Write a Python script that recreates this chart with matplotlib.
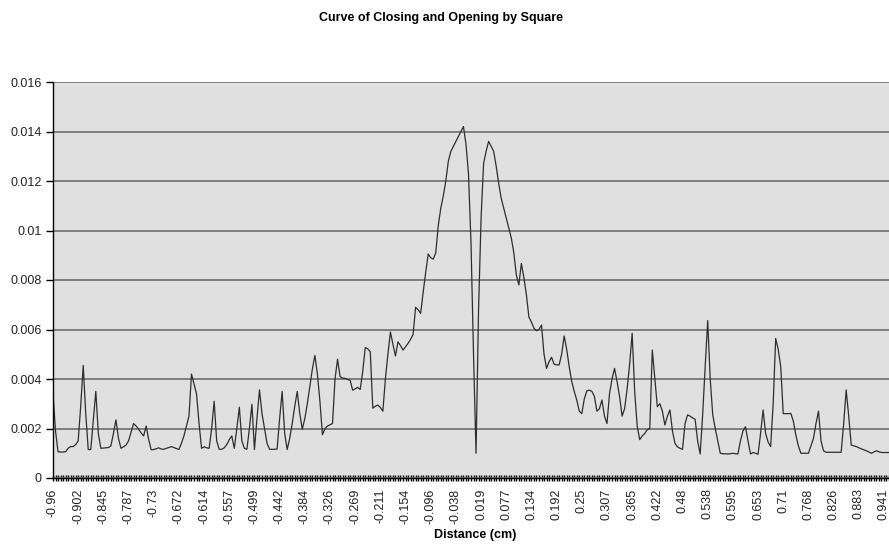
import matplotlib
matplotlib.use("Agg")
import matplotlib.pyplot as plt
import numpy as np

plt.rcParams["font.family"] = ["Liberation Sans", "DejaVu Sans"]

# category labels shown on the x axis (every 10th distance value)
tick_labels = [
    "-0.96", "-0.902", "-0.845", "-0.787", "-0.73", "-0.672", "-0.614",
    "-0.557", "-0.499", "-0.442", "-0.384", "-0.326", "-0.269", "-0.211",
    "-0.154", "-0.096", "-0.038", "0.019", "0.077", "0.134", "0.192",
    "0.25", "0.307", "0.365", "0.422", "0.48", "0.538", "0.595", "0.653",
    "0.71", "0.768", "0.826", "0.883", "0.941",
]

y_ticks = [0, 0.002, 0.004, 0.006, 0.008, 0.01, 0.012, 0.014, 0.016]
y_labels = ["0", "0.002", "0.004", "0.006", "0.008", "0.01", "0.012", "0.014", "0.016"]

# one value per distance step
values = [
    0.00342, 0.00190, 0.00106, 0.00105, 0.00105, 0.00106, 0.00120, 0.00127, 0.00127, 0.00135,
    0.00150, 0.00290, 0.00455, 0.00260, 0.00115, 0.00115, 0.00230, 0.00350, 0.00180, 0.00120,
    0.00121, 0.00122, 0.00123, 0.00130, 0.00180, 0.00235, 0.00160, 0.00120, 0.00126, 0.00133,
    0.00150, 0.00185, 0.00220, 0.00210, 0.00197, 0.00182, 0.00170, 0.00210, 0.00155, 0.00114,
    0.00115, 0.00118, 0.00122, 0.00117, 0.00116, 0.00120, 0.00123, 0.00127, 0.00123, 0.00119,
    0.00115, 0.00140, 0.00170, 0.00210, 0.00250, 0.00420, 0.00380, 0.00340, 0.00220, 0.00120,
    0.00126, 0.00122, 0.00120, 0.00200, 0.00310, 0.00150, 0.00116, 0.00116, 0.00122, 0.00135,
    0.00155, 0.00170, 0.00120, 0.00200, 0.00286, 0.00150, 0.00120, 0.00116, 0.00200, 0.00298,
    0.00115, 0.00240, 0.00356, 0.00260, 0.00200, 0.00140, 0.00116, 0.00116, 0.00116, 0.00117,
    0.00240, 0.00350, 0.00180, 0.00115, 0.00160, 0.00220, 0.00290, 0.00350, 0.00260, 0.00197,
    0.00240, 0.00300, 0.00370, 0.00440, 0.00495, 0.00420, 0.00310, 0.00175, 0.00200, 0.00210,
    0.00215, 0.00220, 0.00400, 0.00480, 0.00410, 0.00403, 0.00403, 0.00398, 0.00395, 0.00355,
    0.00360, 0.00366, 0.00358, 0.00430, 0.00527, 0.00522, 0.00510, 0.00282, 0.00290, 0.00295,
    0.00285, 0.00270, 0.00400, 0.00500, 0.00590, 0.00540, 0.00493, 0.00550, 0.00535, 0.00517,
    0.00530, 0.00544, 0.00560, 0.00580, 0.00690, 0.00680, 0.00665, 0.00750, 0.00830, 0.00905,
    0.00890, 0.00884, 0.00910, 0.01020, 0.01090, 0.01140, 0.01200, 0.01280, 0.01320, 0.01340,
    0.01360, 0.01380, 0.01400, 0.01420, 0.01350, 0.01230, 0.00950, 0.00500, 0.00100, 0.00680,
    0.01050, 0.01270, 0.01320, 0.01360, 0.01340, 0.01320, 0.01260, 0.01190, 0.01130, 0.01090,
    0.01050, 0.01010, 0.00970, 0.00910, 0.00820, 0.00780, 0.00867, 0.00810, 0.00740, 0.00650,
    0.00630, 0.00605, 0.00595, 0.00600, 0.00618, 0.00500, 0.00443, 0.00470, 0.00488, 0.00460,
    0.00457, 0.00457, 0.00500, 0.00574, 0.00520, 0.00450, 0.00390, 0.00350, 0.00315, 0.00270,
    0.00260, 0.00320, 0.00352, 0.00355, 0.00350, 0.00330, 0.00270, 0.00280, 0.00315, 0.00250,
    0.00220, 0.00340, 0.00400, 0.00443, 0.00390, 0.00330, 0.00250, 0.00280, 0.00360, 0.00460,
    0.00585, 0.00350, 0.00210, 0.00155, 0.00170, 0.00180, 0.00195, 0.00200, 0.00517, 0.00400,
    0.00288, 0.00300, 0.00270, 0.00214, 0.00250, 0.00275, 0.00190, 0.00140, 0.00126, 0.00120,
    0.00116, 0.00220, 0.00255, 0.00250, 0.00243, 0.00237, 0.00150, 0.00097, 0.00255, 0.00450,
    0.00636, 0.00400, 0.00255, 0.00200, 0.00150, 0.00100, 0.00098, 0.00098, 0.00097, 0.00098,
    0.00100, 0.00098, 0.00097, 0.00150, 0.00190, 0.00207, 0.00150, 0.00097, 0.00103, 0.00100,
    0.00096, 0.00180, 0.00275, 0.00180, 0.00145, 0.00127, 0.00300, 0.00564, 0.00520, 0.00450,
    0.00260, 0.00260, 0.00260, 0.00261, 0.00230, 0.00174, 0.00130, 0.00100, 0.00100, 0.00100,
    0.00100, 0.00130, 0.00160, 0.00220, 0.00270, 0.00150, 0.00110, 0.00104, 0.00104, 0.00104,
    0.00104, 0.00104, 0.00104, 0.00104, 0.00220, 0.00356, 0.00250, 0.00133, 0.00130, 0.00127,
    0.00122, 0.00118, 0.00114, 0.00110, 0.00105, 0.00100, 0.00105, 0.00110, 0.00106, 0.00103,
    0.00103, 0.00103, 0.00103,
]

fig = plt.figure(figsize=(8.89, 5.5), dpi=100)
ax = fig.add_axes([53 / 889, 72 / 550, 1 - 53 / 889, 396 / 550])
ax.set_facecolor("#e0e0e0")

x = np.arange(len(values))
ax.plot(x, values, color="#2e2e2e", lw=0.9)

ax.set_xlim(0, len(values) - 1)
ax.set_ylim(0, 0.016)

ax.set_yticks(y_ticks)
ax.set_yticklabels(y_labels)
ax.yaxis.grid(True, color="#777777", lw=1.3)
ax.set_axisbelow(True)

ax.set_xticks(np.arange(len(tick_labels)) * 10)
ax.set_xticklabels(tick_labels, rotation=90)
ax.set_xticks(x, minor=True)

ax.tick_params(axis="y", direction="out", length=5, width=1, pad=3,
               labelsize=9, labelcolor="#222222")
ax.tick_params(axis="x", which="both", direction="inout", length=5, width=1,
               pad=5, labelsize=9, labelcolor="#222222")
ax.tick_params(axis="x", which="minor", length=5)

for side in ["top", "right"]:
    ax.spines[side].set_visible(False)
for side in ["left", "bottom"]:
    ax.spines[side].set_color("black")
    ax.spines[side].set_linewidth(1)

fig.text(441 / 889, 1 - 18 / 550, "Curve of Closing and Opening by Square",
         ha="center", va="center", fontsize=9, fontweight="bold")
fig.text(475 / 889, 1 - 535 / 550, "Distance (cm)",
         ha="center", va="center", fontsize=9, fontweight="bold")

fig.savefig("out.png", dpi=100)
